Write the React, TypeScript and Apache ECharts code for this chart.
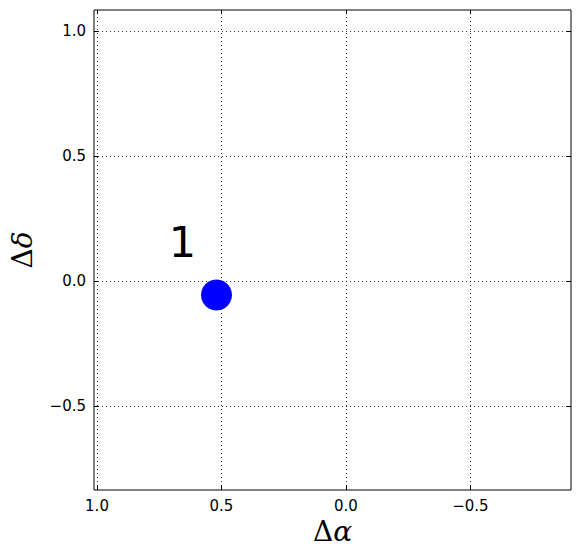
import React, { useEffect, useRef } from "react";
import * as echarts from "echarts";

const xRange = [-0.904, 1.012];
const yRange = [-0.836, 1.084];
const xTicks = [1.0, 0.5, 0.0, -0.5];
const yTicks = [1.0, 0.5, 0.0, -0.5];
const pointXs = [0.52];
const pointYs = [-0.056];
const labelTexts = ["1"];
const labelXs = [0.7];
const labelYs = [0.1];

const fmt = (v: number) => v.toFixed(1).replace("-", "\u2212");

export default function App() {
  const ref = useRef<HTMLDivElement>(null);
  useEffect(() => {
    const chart = echarts.init(ref.current!, null, { renderer: "svg" });
    const labelStyle = { color: "#000", fontFamily: "DejaVu Sans", fontSize: 15 };
    const tick = (vals: number[]) => ({
      show: true,
      inside: true,
      length: 4,
      customValues: vals,
      lineStyle: { color: "#000", width: 1 },
    });
    const noLine = { show: false, onZero: false };
    const dotted = { color: "#000", width: 1, type: [1, 3] as any, opacity: 0.8 };
    const titleRich = {
      d: { fontFamily: "DejaVu Serif", fontSize: 28, color: "#000" },
      a: { fontFamily: "DejaVu Serif", fontStyle: "italic", fontSize: 28, color: "#000" },
    };
    chart.setOption({
      animation: false,
      backgroundColor: "#fff",
      grid: {
        left: 92,
        top: 10,
        width: 479,
        height: 480,
        show: true,
        borderColor: "#000",
        borderWidth: 1,
        backgroundColor: "transparent",
      },
      xAxis: [
        {
          type: "value",
          inverse: true,
          min: xRange[0],
          max: xRange[1],
          position: "bottom",
          axisLine: noLine,
          axisTick: tick(xTicks),
          axisLabel: { ...labelStyle, customValues: xTicks, formatter: fmt, margin: 8 },
          splitLine: { show: false },
          name: "{d|\u0394}{a|\u03b1}",
          nameLocation: "middle",
          nameGap: 26,
          nameTextStyle: { rich: titleRich },
        },
        {
          type: "value",
          inverse: true,
          min: xRange[0],
          max: xRange[1],
          position: "top",
          axisLine: noLine,
          axisTick: tick(xTicks),
          axisLabel: { show: false },
          splitLine: { show: false },
        },
      ],
      yAxis: [
        {
          type: "value",
          min: yRange[0],
          max: yRange[1],
          position: "left",
          axisLine: noLine,
          axisTick: tick(yTicks),
          axisLabel: { ...labelStyle, customValues: yTicks, formatter: fmt, margin: 8 },
          splitLine: { show: false },
          name: "{d|\u0394}{a|\u03b4}",
          nameLocation: "middle",
          nameGap: 58,
          nameRotate: 90,
          nameTextStyle: { rich: titleRich },
        },
        {
          type: "value",
          min: yRange[0],
          max: yRange[1],
          position: "right",
          axisLine: noLine,
          axisTick: tick(yTicks),
          axisLabel: { show: false },
          splitLine: { show: false },
        },
      ],
      series: [
        {
          type: "scatter",
          xAxisIndex: 0,
          yAxisIndex: 0,
          symbol: "circle",
          symbolSize: 31,
          itemStyle: { color: "#0000ff", opacity: 1 },
          data: pointXs.map((x, i) => [x, pointYs[i]]),
          z: 5,
          markLine: {
            silent: true,
            symbol: "none",
            label: { show: false },
            lineStyle: dotted,
            data: [
              ...xTicks.map((v) => ({ xAxis: v })),
              ...yTicks.map((v) => ({ yAxis: v })),
            ],
            z: 1,
          },
        },
        {
          type: "scatter",
          xAxisIndex: 0,
          yAxisIndex: 0,
          symbolSize: 0,
          itemStyle: { opacity: 1 },
          data: labelXs.map((x, i) => [x, labelYs[i]]),
          label: {
            show: true,
            position: [0, 0],
            offset: [-3, 7],
            align: "left",
            verticalAlign: "bottom",
            formatter: (p: any) => labelTexts[p.dataIndex],
            fontFamily: "DejaVu Sans",
            fontSize: 43,
            color: "#000",
            opacity: 1,
          },
          z: 6,
        },
      ],
    });
    return () => chart.dispose();
  }, []);
  return (
    <div
      ref={ref}
      style={{ position: "fixed", left: 0, top: 0, width: 580, height: 558 }}
    />
  );
}
